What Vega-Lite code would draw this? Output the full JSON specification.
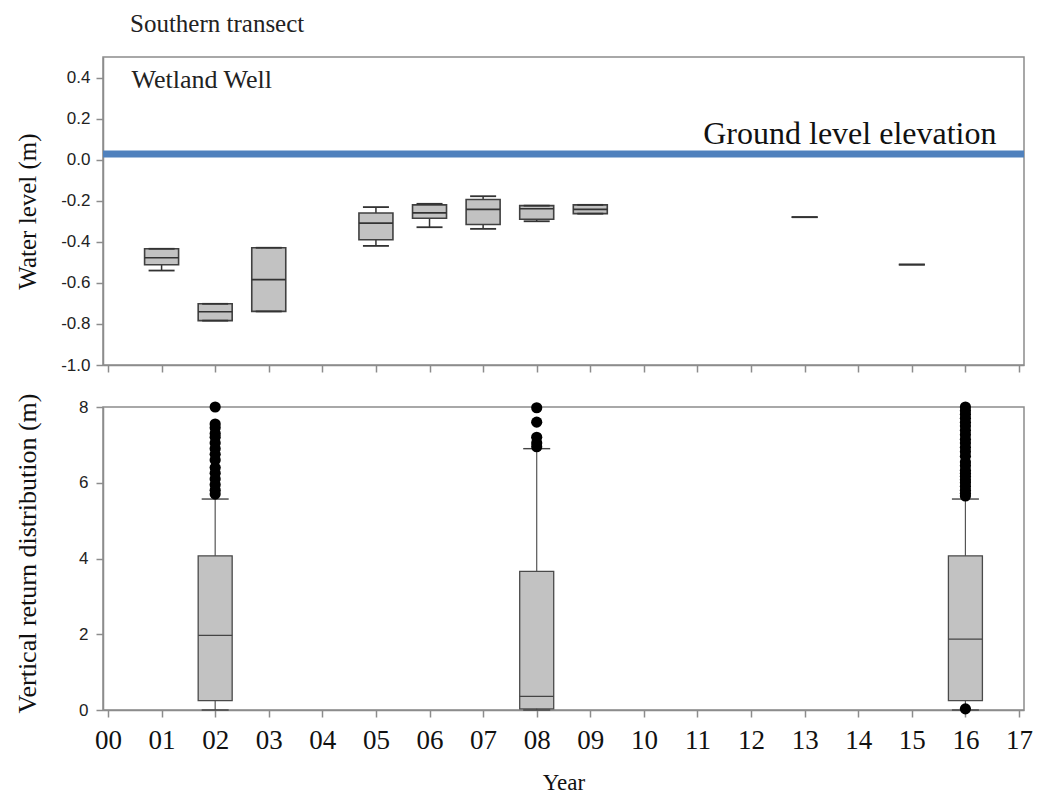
{
  "$schema": "https://vega.github.io/schema/vega-lite/v6.json",
  "padding": {"left": 13, "top": 11, "right": 3, "bottom": 0},
  "background": "white",
  "datasets": {
    "wells": [
      {"year": 1, "lower": -0.540, "q1": -0.512, "median": -0.478, "q3": -0.434, "upper": -0.434},
      {"year": 2, "lower": -0.784, "q1": -0.784, "median": -0.741, "q3": -0.702, "upper": -0.702},
      {"year": 3, "lower": -0.739, "q1": -0.739, "median": -0.584, "q3": -0.429, "upper": -0.429},
      {"year": 5, "lower": -0.420, "q1": -0.390, "median": -0.309, "q3": -0.260, "upper": -0.231},
      {"year": 6, "lower": -0.329, "q1": -0.285, "median": -0.259, "q3": -0.220, "upper": -0.215},
      {"year": 7, "lower": -0.337, "q1": -0.316, "median": -0.242, "q3": -0.194, "upper": -0.178},
      {"year": 8, "lower": -0.300, "q1": -0.290, "median": -0.239, "q3": -0.224, "upper": -0.224},
      {"year": 9, "lower": -0.263, "q1": -0.263, "median": -0.242, "q3": -0.220, "upper": -0.220},
      {"year": 13, "lower": -0.280, "q1": null, "median": null, "q3": null, "upper": -0.280},
      {"year": 15, "lower": -0.511, "q1": null, "median": null, "q3": null, "upper": -0.511}
    ],
    "returns": [
      {"year": 2, "lower": 0, "q1": 0.245, "median": 1.97, "q3": 4.07, "upper": 5.57},
      {"year": 8, "lower": 0, "q1": 0.03, "median": 0.36, "q3": 3.66, "upper": 6.9},
      {"year": 16, "lower": 0, "q1": 0.245, "median": 1.87, "q3": 4.07, "upper": 5.57}
    ],
    "outliers": [
      {"year": 2, "value": 8.0}, {"year": 2, "value": 7.55}, {"year": 2, "value": 7.45}, {"year": 2, "value": 7.3},
      {"year": 2, "value": 7.2}, {"year": 2, "value": 7.05}, {"year": 2, "value": 6.9}, {"year": 2, "value": 6.75},
      {"year": 2, "value": 6.6}, {"year": 2, "value": 6.4}, {"year": 2, "value": 6.25}, {"year": 2, "value": 6.1},
      {"year": 2, "value": 5.95}, {"year": 2, "value": 5.8}, {"year": 2, "value": 5.7},
      {"year": 8, "value": 7.98}, {"year": 8, "value": 7.6}, {"year": 8, "value": 7.2}, {"year": 8, "value": 7.05}, {"year": 8, "value": 6.95},
      {"year": 16, "value": 0.03}, {"year": 16, "value": 5.65}, {"year": 16, "value": 5.72}, {"year": 16, "value": 5.8},
      {"year": 16, "value": 5.9}, {"year": 16, "value": 6.0}, {"year": 16, "value": 6.08}, {"year": 16, "value": 6.17},
      {"year": 16, "value": 6.25}, {"year": 16, "value": 6.33}, {"year": 16, "value": 6.45}, {"year": 16, "value": 6.55},
      {"year": 16, "value": 6.7}, {"year": 16, "value": 6.82}, {"year": 16, "value": 6.93}, {"year": 16, "value": 7.05},
      {"year": 16, "value": 7.15}, {"year": 16, "value": 7.27}, {"year": 16, "value": 7.38}, {"year": 16, "value": 7.5},
      {"year": 16, "value": 7.6}, {"year": 16, "value": 7.7}, {"year": 16, "value": 7.8}, {"year": 16, "value": 7.9},
      {"year": 16, "value": 8.0}
    ],
    "ground": [{"elevation": 0.027, "label": "Ground level elevation"}],
    "note": [{"label": "Wetland Well"}]
  },
  "spacing": 42,
  "bounds": "flush",
  "vconcat": [
    {
      "width": 921,
      "height": 308,
      "title": {"text": "Southern transect", "anchor": "start", "frame": "group", "font": "Liberation Serif", "fontSize": 25, "fontWeight": "normal", "color": "#222222", "dx": 27, "offset": 20},
      "layer": [
        {
          "data": {"name": "ground"},
          "mark": {"type": "rule", "color": "#4F81BD", "strokeWidth": 7},
          "encoding": {
            "y": {"field": "elevation", "type": "quantitative", "scale": {"domain": [-1, 0.5], "nice": false},
                  "axis": {"title": "Water level (m)", "values": [-1, -0.8, -0.6, -0.4, -0.2, 0, 0.2, 0.4], "labelExpr": "replace(format(datum.value, '.1f'), '\u2212', '-')", "labelFontSize": 17, "labelPadding": 6, "titleFontSize": 25, "titleX": -76, "titleY": 154, "titleBaseline": "middle", "titleAngle": -90}}
          }
        },
        {
          "data": {"name": "ground"},
          "mark": {"type": "text", "font": "Liberation Serif", "fontSize": 32, "align": "right", "baseline": "alphabetic", "dy": -10, "color": "#111111"},
          "encoding": {
            "x": {"datum": 16.58, "type": "quantitative"},
            "y": {"field": "elevation", "type": "quantitative"},
            "text": {"field": "label"}
          }
        },
        {
          "data": {"name": "note"},
          "mark": {"type": "text", "font": "Liberation Serif", "fontSize": 26, "align": "left", "baseline": "alphabetic", "color": "#222222"},
          "encoding": {
            "x": {"datum": 0.44, "type": "quantitative"},
            "y": {"datum": 0.35, "type": "quantitative"},
            "text": {"field": "label"}
          }
        },
        {
          "data": {"name": "wells"},
          "mark": {"type": "rule", "color": "#333333", "strokeWidth": 1.5},
          "encoding": {
            "x": {"field": "year", "type": "quantitative", "scale": {"domain": [0, 17], "nice": false, "zero": false},
                  "axis": {"title": null, "values": [0,1,2,3,4,5,6,7,8,9,10,11,12,13,14,15,16,17], "labels": false}},
            "y": {"field": "lower", "type": "quantitative"},
            "y2": {"field": "upper"}
          }
        },
        {
          "data": {"name": "wells"},
          "mark": {"type": "bar", "width": 34, "fill": "#c2c2c2", "stroke": "#404040", "strokeWidth": 1.6},
          "encoding": {
            "x": {"field": "year", "type": "quantitative"},
            "y": {"field": "q1", "type": "quantitative"},
            "y2": {"field": "q3"}
          }
        },
        {
          "data": {"name": "wells"},
          "mark": {"type": "tick", "orient": "horizontal", "size": 34, "thickness": 1.6, "color": "#333333", "opacity": 1},
          "encoding": {
            "x": {"field": "year", "type": "quantitative"},
            "y": {"field": "median", "type": "quantitative"}
          }
        },
        {
          "data": {"name": "wells"},
          "mark": {"type": "tick", "orient": "horizontal", "size": 26, "thickness": 1.8, "color": "#333333", "opacity": 1},
          "encoding": {
            "x": {"field": "year", "type": "quantitative"},
            "y": {"field": "lower", "type": "quantitative"}
          }
        },
        {
          "data": {"name": "wells"},
          "mark": {"type": "tick", "orient": "horizontal", "size": 26, "thickness": 1.8, "color": "#333333", "opacity": 1},
          "encoding": {
            "x": {"field": "year", "type": "quantitative"},
            "y": {"field": "upper", "type": "quantitative"}
          }
        }
      ]
    },
    {
      "width": 921,
      "height": 303,
      "layer": [
        {
          "data": {"name": "returns"},
          "mark": {"type": "rule", "color": "#555555", "strokeWidth": 1.2},
          "encoding": {
            "x": {"field": "year", "type": "quantitative", "scale": {"domain": [0, 17], "nice": false, "zero": false},
                  "axis": {"title": "Year", "titleFontSize": 23, "titlePadding": 18, "values": [0,1,2,3,4,5,6,7,8,9,10,11,12,13,14,15,16,17],
                           "labelExpr": "(datum.value < 10 ? '0' : '') + datum.value", "labelFont": "Liberation Serif", "labelFontSize": 27, "labelColor": "#111111", "labelPadding": 10}},
            "y": {"field": "lower", "type": "quantitative", "scale": {"domain": [0, 8], "nice": false},
                  "axis": {"title": "Vertical return distribution (m)", "values": [0, 2, 4, 6, 8], "labelFontSize": 17, "labelPadding": 8, "titleFontSize": 26, "titleX": -76, "titleY": 146, "titleBaseline": "middle", "titleAngle": -90}},
            "y2": {"field": "upper"}
          }
        },
        {
          "data": {"name": "returns"},
          "mark": {"type": "bar", "width": 34, "fill": "#c2c2c2", "stroke": "#4a4a4a", "strokeWidth": 1.3},
          "encoding": {
            "x": {"field": "year", "type": "quantitative"},
            "y": {"field": "q1", "type": "quantitative"},
            "y2": {"field": "q3"}
          }
        },
        {
          "data": {"name": "returns"},
          "mark": {"type": "tick", "orient": "horizontal", "size": 34, "thickness": 1.3, "color": "#444444", "opacity": 1},
          "encoding": {
            "x": {"field": "year", "type": "quantitative"},
            "y": {"field": "median", "type": "quantitative"}
          }
        },
        {
          "data": {"name": "returns"},
          "mark": {"type": "tick", "orient": "horizontal", "size": 27, "thickness": 1.4, "color": "#444444", "opacity": 1},
          "encoding": {
            "x": {"field": "year", "type": "quantitative"},
            "y": {"field": "upper", "type": "quantitative"}
          }
        },
        {
          "data": {"name": "returns"},
          "mark": {"type": "tick", "orient": "horizontal", "size": 27, "thickness": 1.4, "color": "#444444", "opacity": 1},
          "encoding": {
            "x": {"field": "year", "type": "quantitative"},
            "y": {"field": "lower", "type": "quantitative"}
          }
        },
        {
          "data": {"name": "outliers"},
          "mark": {"type": "point", "filled": true, "shape": "circle", "size": 125, "color": "#000000", "opacity": 1},
          "encoding": {
            "x": {"field": "year", "type": "quantitative"},
            "y": {"field": "value", "type": "quantitative"}
          }
        }
      ]
    }
  ],
  "config": {
    "view": {"stroke": "#8c8c8c", "strokeWidth": 1.5},
    "axis": {"grid": false, "domainColor": "#8c8c8c", "domainWidth": 1.5, "tickColor": "#8c8c8c", "tickWidth": 1.5, "tickSize": 7,
             "labelFont": "Liberation Sans", "labelColor": "#222222", "titleFont": "Liberation Serif", "titleFontWeight": "normal", "titleColor": "#111111"}
  }
}
